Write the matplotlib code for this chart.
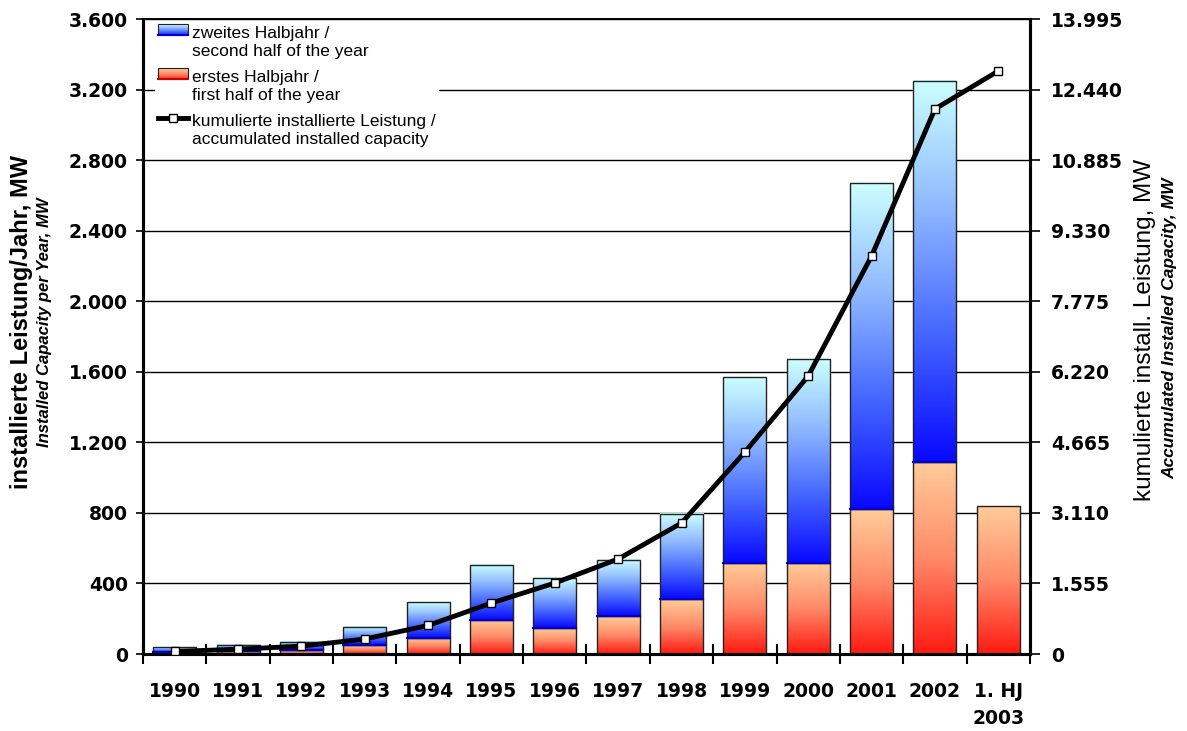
import numpy as np
import matplotlib
matplotlib.use("Agg")
import matplotlib.pyplot as plt
from matplotlib import font_manager
from matplotlib.colors import LinearSegmentedColormap
from matplotlib.patches import Rectangle
from matplotlib.lines import Line2D
from matplotlib.legend_handler import HandlerBase
from matplotlib.ticker import FuncFormatter, MultipleLocator

# data (MW)
years = ['1990', '1991', '1992', '1993', '1994', '1995', '1996', '1997',
         '1998', '1999', '2000', '2001', '2002', '1. HJ\n2003']
first_half = [12, 15, 20, 50, 91, 193, 147, 215, 310, 516, 516, 822, 1088, 839]
second_half = [28, 35, 48, 103, 204, 312, 284, 318, 484, 1054, 1156, 1848, 2160, 0]
cumulative = [56, 106, 174, 330, 630, 1124, 1565, 2094, 2887, 4452, 6127, 8772, 12011, 12849]

left_ticks_step = 400
right_ticks_step = 1555

names = {f.name for f in font_manager.fontManager.ttflist}
narrow = 'Liberation Sans Narrow' if 'Liberation Sans Narrow' in names else 'Liberation Sans'

red_cmap = LinearSegmentedColormap.from_list('red', ['#ff1a12', '#ff8a68', '#ffcc99'])
blue_cmap = LinearSegmentedColormap.from_list('blue', ['#0808ff', '#4466ff', '#8fb8ff', '#ccffff'])
grad = np.linspace(0, 1, 256).reshape(-1, 1)


class GradientHandler(HandlerBase):
    def __init__(self, cmap, edge):
        super().__init__()
        self.cmap = cmap
        self.edge = edge

    def create_artists(self, legend, orig_handle, xdescent, ydescent, width, height, fontsize, trans):
        shift = fontsize * 0.72
        n = 12
        arts = []
        for i in range(n):
            r = Rectangle((-xdescent, -ydescent + shift + height * i / n), width, height / n + 0.3,
                          facecolor=self.cmap((i + 0.5) / n), edgecolor='none', transform=trans)
            arts.append(r)
        arts.append(Rectangle((-xdescent, -ydescent + shift), width, height, facecolor='none',
                              edgecolor='#222222', lw=0.8, transform=trans))
        arts.append(Line2D([-xdescent, -xdescent + width], [-ydescent + shift + 0.5] * 2,
                           color=self.edge, lw=1.5, transform=trans))
        return arts


class LineHandler(HandlerBase):
    def create_artists(self, legend, orig_handle, xdescent, ydescent, width, height, fontsize, trans):
        y = -ydescent + fontsize * 0.72 + height / 2
        l = Line2D([-xdescent, -xdescent + width], [y, y], color='black', lw=3.5, transform=trans)
        m = Line2D([-xdescent + width / 2], [y], marker='s', ms=6, mfc='white', mec='black',
                   mew=1, ls='none', transform=trans)
        return [l, m]


fig = plt.figure(figsize=(11.87, 7.31), dpi=100)
ax = fig.add_axes([0.1205, 0.1053, 0.7472, 0.8687])

x = np.arange(len(years))
w = 0.68
ax.set_axisbelow(True)
ax.yaxis.grid(True, color='black', lw=1)

bars_red = ax.bar(x, first_half, w, color='none', edgecolor='#222222', lw=1, zorder=3)
bars_blue = ax.bar(x, second_half, w, bottom=first_half, color='none', edgecolor='#222222', lw=1, zorder=3)

for bars, cmap, edge in [(bars_red, red_cmap, None), (bars_blue, blue_cmap, '#0000cc')]:
    for b in bars:
        if b.get_height() <= 0:
            b.set_visible(False)
            continue
        x0, y0 = b.get_x(), b.get_y()
        bw, bh = b.get_width(), b.get_height()
        ax.imshow(grad, extent=[x0, x0 + bw, y0, y0 + bh], origin='lower', aspect='auto',
                  cmap=cmap, zorder=2, interpolation='bilinear')
        if edge:
            ax.plot([x0, x0 + bw], [y0, y0], color=edge, lw=1.5, zorder=3.5)

ax.set_xlim(-0.5, len(years) - 0.5)
ax.set_ylim(0, 3600)
ax.yaxis.set_major_locator(MultipleLocator(left_ticks_step))
fmt = FuncFormatter(lambda v, p: f'{int(round(v)):,}'.replace(',', '.'))
ax.yaxis.set_major_formatter(fmt)

ax.set_xticks(x)
ax.set_xticklabels(years, fontsize=13.5, fontweight='bold', linespacing=1.55, va='top')
ax.set_xticks(np.arange(len(years) + 1) - 0.5, minor=True)
ax.tick_params(axis='x', which='major', length=0, pad=20)
ax.tick_params(axis='x', which='minor', direction='inout', length=14, width=1.5)
ax.tick_params(axis='y', which='major', direction='out', length=5, width=1.2, pad=6,
               labelsize=13.5)
for t in ax.get_yticklabels():
    t.set_fontweight('bold')

for s in ['left', 'right', 'bottom']:
    ax.spines[s].set_linewidth(2.2)
ax.spines['top'].set_linewidth(1.2)

ax2 = ax.twinx()
ax2.set_ylim(0, 13995)
ax2.yaxis.set_major_locator(MultipleLocator(right_ticks_step))
ax2.yaxis.set_major_formatter(fmt)
ax2.plot(x, cumulative, color='black', lw=3.5, marker='s', ms=6, mfc='white', mec='black',
         mew=1, zorder=5, solid_joinstyle='round')
ax2.tick_params(axis='y', direction='out', length=7, width=1.2, pad=8, labelsize=13.5)
for t in ax2.get_yticklabels():
    t.set_fontweight('bold')
ax2.spines['right'].set_linewidth(2.2)
ax2.spines['left'].set_linewidth(2.2)
ax2.spines['bottom'].set_linewidth(2.2)
ax2.spines['top'].set_linewidth(1.2)

h_blue = Rectangle((0, 0), 1, 1)
h_red = Rectangle((0, 0), 1, 1)
h_line = Line2D([0], [0])
leg = ax2.legend([h_blue, h_red, h_line],
                 ['zweites Halbjahr /\nsecond half of the year',
                  'erstes Halbjahr /\nfirst half of the year',
                  'kumulierte installierte Leistung /\naccumulated installed capacity'],
                 handler_map={h_blue: GradientHandler(blue_cmap, '#0000cc'),
                              h_red: GradientHandler(red_cmap, '#cc0000'),
                              h_line: LineHandler()},
                 loc='upper left', bbox_to_anchor=(0.013, 0.995), prop={'family': 'Liberation Sans', 'size': 12.5},
                 frameon=True, fancybox=False, framealpha=1, edgecolor='none', facecolor='white',
                 handlelength=1.75, handleheight=0.6, handletextpad=0.2, labelspacing=0.6,
                 borderpad=0.2, borderaxespad=0)
for t in leg.get_texts():
    t.set_linespacing(1.3)
leg.set_zorder(10)

fig.text(0.0185, 0.5595, 'installierte Leistung/Jahr, MW', rotation=90, ha='center', va='center',
         family=narrow, fontweight='bold', fontsize=17)
fig.text(0.0379, 0.5595, 'Installed Capacity per Year, MW', rotation=90, ha='center', va='center',
         family=narrow, fontweight='bold', style='italic', fontsize=12)
fig.text(0.9646, 0.5486, 'kumulierte install. Leistung, MW', rotation=90, ha='center', va='center',
         family=narrow, fontsize=17.5)
fig.text(0.9857, 0.5513, 'Accumulated Installed Capacity, MW', rotation=90, ha='center', va='center',
         family=narrow, fontweight='bold', style='italic', fontsize=12.5)

fig.savefig('out.png', dpi=100)
